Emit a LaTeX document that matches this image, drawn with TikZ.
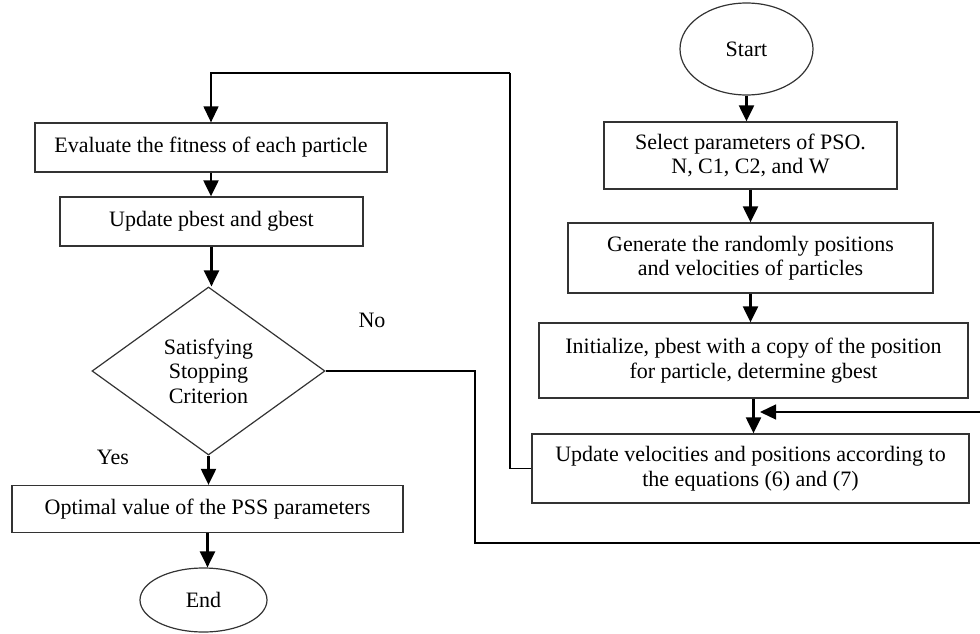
\documentclass[tikz,border=0pt]{standalone}
\usepackage{fontspec}
\setmainfont{Liberation Serif}
\usetikzlibrary{shapes.geometric,arrows.meta}
\begin{document}
\begin{tikzpicture}[x=1pt,y=-1pt,
  every node/.style={font=\fontsize{22}{24.5}\selectfont, text=black},
  box/.style={draw=black!80, line width=1.3pt, rectangle, align=center, inner sep=0pt},
  oval/.style={draw=black!80, line width=1.2pt, ellipse, inner sep=0pt},
  dmd/.style={draw=black!80, line width=1.2pt, diamond, align=center, inner sep=0pt},
  arr/.style={line width=2.2pt, -{Triangle[width=15pt,length=16pt]}},
  ln/.style={line width=1.3pt, draw=black}
]
\useasboundingbox (0,0) rectangle (980,634);
% right column
\node[oval, minimum width=133pt, minimum height=92pt] (start) at (746.5,49) {Start};
\node[box, minimum width=293pt, minimum height=67pt] (sel) at (750.5,155.5) {Select parameters of PSO.\\N, C1, C2, and W};
\node[box, minimum width=365pt, minimum height=70pt] (gen) at (750.5,258) {Generate the randomly positions\\and velocities of particles};
\node[box, minimum width=429pt, minimum height=75pt] (init) at (753.5,360.5) {Initialize, pbest with a copy of the position\\for particle, determine gbest};
\node[box, minimum width=437pt, minimum height=69pt] (upd) at (750.5,468.5) {Update velocities and positions according to\\the equations (6) and (7)};
% left column
\node[box, minimum width=352pt, minimum height=49pt] (eval) at (211,147.5) {Evaluate the fitness of each particle};
\node[box, minimum width=303pt, minimum height=49pt] (pg) at (211.5,221.5) {Update pbest and gbest};
\node[dmd, minimum width=233pt, minimum height=168pt] (dia) at (208.5,371) {Satisfying\\Stopping\\Criterion};
\node[box, minimum width=391pt, minimum height=47pt] (opt) at (207.5,509) {Optimal value of the PSS parameters};
\node[oval, minimum width=127pt, minimum height=64pt] (end) at (203.5,600) {End};
\node (no) at (372,320) {No};
\node (yes) at (113,457) {Yes};
% coordinates
\coordinate (lt) at (510,73);
\coordinate (nb) at (475,543);
\coordinate (re) at (980,543);
\coordinate (ri) at (980,412);
\coordinate (ai) at (760,412);
% arrows right
\draw[arr] (start.south) -- (sel.north -| start.south);
\draw[arr] (sel.south) -- (gen.north -| sel.south);
\draw[arr] (gen.south) -- (init.north -| gen.south);
\draw[arr] (init.south) -- (upd.north -| init.south);
\draw[arr,ln] (ri) -- (ai);
% left
\draw[arr] (eval.south) -- (pg.north -| eval.south);
\draw[arr] (pg.south) -- (dia.north -| pg.south);
\draw[arr] (dia.south) -- (opt.north -| dia.south);
\draw[arr] (opt.south) -- (end.north -| opt.south);
% loops
\draw[ln] (upd.west) -| (lt);
\draw[arr,ln] (lt) -| (eval.north);
\draw[ln] (dia.east) -| (nb) -- (re);
\end{tikzpicture}
\end{document}
